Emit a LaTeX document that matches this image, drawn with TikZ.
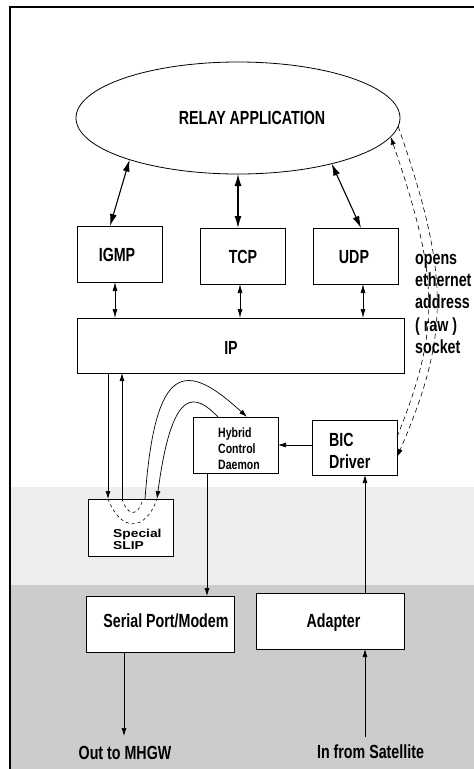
\documentclass[tikz,border=0pt]{standalone}
\usepackage{fontspec}
\usetikzlibrary{arrows.meta,shapes.geometric}
\newfontfamily\condfont{Liberation Sans}[FakeStretch=0.75]
\newfontfamily\hybfont{Liberation Sans}[FakeStretch=0.78]
\newfontfamily\slipfont{Liberation Sans}[FakeStretch=1.2]
\definecolor{lightband}{HTML}{EEEEEE}
\definecolor{darkband}{HTML}{CCCCCC}
\tikzset{
  box/.style={draw, fill=white, line width=0.8pt, minimum width=85pt, minimum height=56pt, inner sep=0pt, outer sep=0pt},
  mainlbl/.style={font=\condfont\bfseries\fontsize{19}{22}\selectfont, inner sep=0pt},
  hyblbl/.style={font=\hybfont\bfseries\fontsize{13.5}{16}\selectfont, inner sep=0pt, anchor=base west},
  sliplbl/.style={font=\slipfont\bfseries\fontsize{11.5}{12}\selectfont, inner sep=0pt, anchor=base west},
  conn/.style={line width=0.7pt, -{Latex[length=8pt,width=5pt]}},
  biconn/.style={line width=0.7pt, {Latex[length=9pt,width=5pt]}-{Latex[length=9pt,width=5pt]}},
  bigbi/.style={line width=1.1pt, {Latex[length=12pt,width=7pt]}-{Latex[length=12pt,width=7pt]}},
  dashconn/.style={line width=0.6pt, dash pattern=on 5pt off 3.5pt},
  vdash/.style={line width=0.6pt, dash pattern=on 3pt off 3pt},
}
\begin{document}
\begin{tikzpicture}[x=1pt,y=-1pt]
\useasboundingbox (0,0) rectangle (474,769);
% background bands and frame
\fill[lightband] (10,487) rectangle (474,585);
\fill[darkband] (10,585) rectangle (474,769);
\draw[line width=1.3pt] (10,769) -- (10,7) -- (474,7);

% ellipse
\node[draw, ellipse, line width=0.8pt, minimum width=324pt, minimum height=112pt, inner sep=0pt, outer sep=0pt] (relay) at (238,118) {};
\node[mainlbl, anchor=base] (relaytxt) at (252,124) {RELAY APPLICATION};

% boxes
\node[box] (igmp) at (119.5,254) {};
\node[box] (tcp) at (242.5,256) {};
\node[box] (udp) at (355.5,256) {};
\node[box, minimum width=327pt, minimum height=55pt] (ip) at (240.5,345.5) {};
\node[box] (hyb) at (235.5,445) {};
\node[box, minimum height=55pt] (bic) at (354.5,447.5) {};
\node[box, minimum height=57pt] (slip) at (130.5,527.5) {};
\node[box, minimum width=148pt] (serial) at (160,624) {};
\node[box, minimum width=148pt] (adapter) at (330,621) {};

% labels
\node[mainlbl, anchor=base] (igmptxt) at (117,261) {IGMP};
\node[mainlbl, anchor=base] (tcptxt) at (243,263) {TCP};
\node[mainlbl, anchor=base] (udptxt) at (354,263) {UDP};
\node[mainlbl, anchor=base] (iptxt) at (231,354) {IP};
\node[mainlbl, anchor=base west] (bictxt1) at (329,446) {BIC};
\node[mainlbl, anchor=base west] (bictxt2) at (329,468) {Driver};
\node[hyblbl] (hybtxt1) at (218,437.5) {Hybrid};
\node[hyblbl] (hybtxt2) at (218,453.5) {Control};
\node[hyblbl] (hybtxt3) at (218,469.5) {Daemon};
\node[sliplbl] (sliptxt1) at (113,537) {Special};
\node[sliplbl] (sliptxt2) at (113,549) {SLIP};
\node[mainlbl, anchor=base] (serialtxt) at (166,627) {Serial Port/Modem};
\node[mainlbl, anchor=base] (adaptertxt) at (333.5,627) {Adapter};
\node[mainlbl, anchor=base] (outtxt) at (125,759) {Out to MHGW};
\node[mainlbl, anchor=base] (intxt) at (370.5,758) {In from Satellite};
\node[mainlbl, anchor=base west] (sock1) at (415,264) {opens};
\node[mainlbl, anchor=base west] (sock2) at (415,286) {ethernet};
\node[mainlbl, anchor=base west] (sock3) at (415,308.5) {address};
\node[mainlbl, anchor=base west] (sock4) at (415,331) {( raw )};
\node[mainlbl, anchor=base west] (sock5) at (415,353) {socket};

\coordinate (outend) at (124,736);
\coordinate (inend) at (365,737);

% ellipse <-> protocol boxes
\draw[bigbi] (relay.201.8) -- ([xshift=-9.5pt]igmp.north);
\draw[bigbi] (relay.south) -- (relay.south |- tcp.north);
\draw[bigbi] (relay.334.8) -- ([xshift=5.5pt]udp.north);

% protocol boxes <-> IP
\draw[biconn] ([xshift=-4.5pt]igmp.south) -- ([xshift=-4.5pt]igmp.south |- ip.north);
\draw[biconn] ([xshift=-2.5pt]tcp.south) -- ([xshift=-2.5pt]tcp.south |- ip.north);
\draw[biconn] ([xshift=7.5pt]udp.south) -- ([xshift=7.5pt]udp.south |- ip.north);

% IP <-> Special SLIP
\draw[conn] ([xshift=-22.5pt]slip.north |- ip.south) -- ([xshift=-22.5pt]slip.north);
\draw[conn] ([xshift=-8.5pt]slip.north) -- ([xshift=-8.5pt]slip.north |- ip.south);

% curves between Special SLIP and Hybrid Control Daemon
\draw[conn] ([xshift=14.5pt]slip.north) .. controls (155,362) and (185,360) .. ([xshift=11.5pt]hyb.north);
\draw[conn] ([xshift=-17.5pt]hyb.north) .. controls (195,393) and (172,385) .. ([xshift=26.5pt]slip.north);

% dashed paths inside Special SLIP
\draw[vdash] ([xshift=-22.5pt]slip.north) .. controls ([xshift=-10pt,yshift=-33pt]slip.north) and ([xshift=15pt,yshift=-33pt]slip.north) .. ([xshift=26.5pt]slip.north);
\draw[vdash] ([xshift=-8.5pt]slip.north) .. controls ([xshift=-2.5pt,yshift=-18pt]slip.north) and ([xshift=7.5pt,yshift=-18pt]slip.north) .. ([xshift=12.5pt]slip.north);

% Hybrid -> Serial, BIC -> Hybrid, Adapter -> BIC
\draw[conn] ([xshift=-28.5pt]hyb.south) -- ([xshift=-28.5pt]hyb.south |- serial.north);
\draw[conn] ([yshift=2.5pt]bic.west) -- ([yshift=2.5pt]bic.west -| hyb.east);
\draw[conn] ([xshift=35pt]adapter.north) -- ([xshift=35pt]adapter.north |- bic.south);

% external connections
\draw[conn] ([xshift=-36pt]serial.south) -- (outend);
\draw[conn] (inend) -- ([xshift=35pt]adapter.south);

% raw socket dashed lines
\draw[dashconn, {Latex[length=8pt,width=5pt]}-] (relay.353.5) .. controls (440,280) and (440,330) .. ([yshift=10.5pt]bic.east);
\draw[dashconn, -{Latex[length=8pt,width=5pt]}] (relay.357) .. controls (450,275) and (450,335) .. ([yshift=-9.5pt]bic.east);
\end{tikzpicture}
\end{document}
